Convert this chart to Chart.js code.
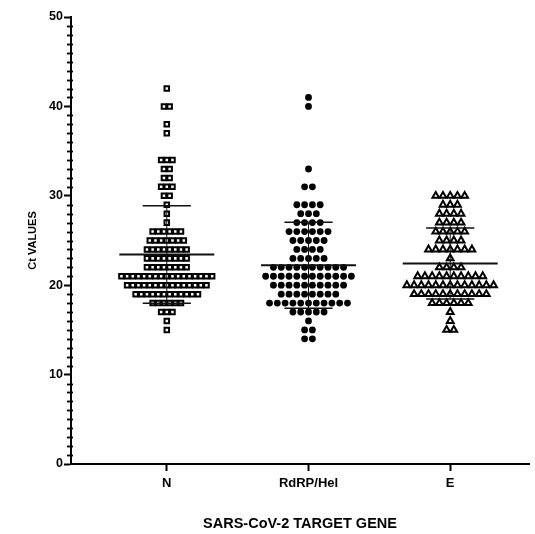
<!DOCTYPE html>
<html>
<head>
<meta charset="utf-8">
<script src="https://cdn.jsdelivr.net/npm/chart.js@4.4.1/dist/chart.umd.min.js"></script>
<style>
  body { margin: 0; background: #fff; }
  canvas { display: block; }
</style>
</head>
<body>
<canvas id="chart" width="535" height="534"></canvas>
<script>
// Categories on the x axis
var genes = ["N", "RdRP/Hel", "E"];

// Ct values, as value / how many points sit at it
var nValues = [42, 40, 38, 37, 34, 33, 32, 31, 30, 29, 28, 27, 26, 25, 24, 23, 22, 21, 20, 19, 18, 17, 16, 15];
var nCounts = [1, 2, 1, 1, 3, 2, 2, 3, 2, 1, 1, 1, 6, 7, 8, 8, 8, 17, 15, 12, 6, 3, 1, 1];

var rdrpValues = [41, 40, 33, 31, 29, 28, 27, 26, 25, 24, 23, 22, 21, 20, 19, 18, 17, 16, 15, 14];
var rdrpCounts = [1, 1, 1, 2, 4, 3, 4, 6, 5, 4, 5, 10, 12, 10, 8, 11, 5, 1, 2, 2];

var eValues = [30, 29, 28, 27, 26, 25, 24, 23, 22, 21, 20, 19, 18, 17, 16, 15];
var eCounts = [5, 3, 4, 4, 5, 4, 7, 1, 4, 10, 13, 11, 6, 1, 1, 2];

// y axis tick labels
var yTicks = [0, 10, 20, 30, 40, 50];

// expand value/count pairs into the raw list
function expand(values, counts) {
  var out = [];
  for (var i = 0; i < values.length; i++) {
    for (var k = 0; k < counts[i]; k++) out.push(values[i]);
  }
  return out;
}

// simple column scatter: points with the same value spread side by side
function swarm(values, counts, center, step) {
  var pts = [];
  for (var i = 0; i < values.length; i++) {
    var n = counts[i];
    for (var k = 0; k < n; k++) {
      pts.push({ x: center + (k - (n - 1) / 2) * step, y: values[i] });
    }
  }
  return pts;
}

function stats(list) {
  var sum = 0;
  list.forEach(function (v) { sum += v; });
  var mean = sum / list.length;
  var ss = 0;
  list.forEach(function (v) { ss += (v - mean) * (v - mean); });
  return { mean: mean, sd: Math.sqrt(ss / (list.length - 1)) };
}

var groups = [
  { values: nValues, counts: nCounts, step: 0.04, style: "rect", radius: 3.2, fill: "#fff", border: 2 },
  { values: rdrpValues, counts: rdrpCounts, step: 0.055, style: "circle", radius: 3.4, fill: "#000", border: 0 },
  { values: eValues, counts: eCounts, step: 0.051, style: "triangle", radius: 3.9, fill: "#fff", border: 2 }
];

var datasets = [];
groups.forEach(function (g, i) {
  var c = i + 1;
  datasets.push({
    type: "scatter",
    data: swarm(g.values, g.counts, c, g.step),
    pointStyle: g.style,
    pointRadius: g.radius,
    pointBackgroundColor: g.fill,
    pointBorderColor: "#000",
    pointBorderWidth: g.border,
    order: 2
  });

  var s = stats(expand(g.values, g.counts));
  var seg = function (pts, w) {
    datasets.push({
      type: "line",
      data: pts,
      borderColor: "#111",
      borderWidth: w,
      pointRadius: 0,
      fill: false,
      order: 1
    });
  };
  seg([{ x: c - 0.335, y: s.mean }, { x: c + 0.335, y: s.mean }], 2);
  seg([{ x: c - 0.17, y: s.mean + s.sd }, { x: c + 0.17, y: s.mean + s.sd }], 1.5);
  seg([{ x: c - 0.17, y: s.mean - s.sd }, { x: c + 0.17, y: s.mean - s.sd }], 1.5);
  seg([{ x: c, y: s.mean - s.sd }, { x: c, y: s.mean + s.sd }], 1);
});

// small unlabelled ticks every 1 unit on the y axis
var minorTicks = {
  id: "minorTicks",
  afterDraw: function (chart) {
    var y = chart.scales.y;
    var ctx = chart.ctx;
    var x0 = y.right;
    ctx.save();
    ctx.strokeStyle = "#000";
    ctx.lineWidth = 1.8;
    for (var v = y.min; v <= y.max; v++) {
      if (v % 10 === 0) continue;
      var py = Math.round(y.getPixelForValue(v)) + 0.5;
      ctx.beginPath();
      ctx.moveTo(x0 - 4, py);
      ctx.lineTo(x0 + 2, py);
      ctx.stroke();
    }
    ctx.restore();
  }
};

Chart.defaults.font.family = "'Liberation Sans', Arial, sans-serif";
Chart.defaults.color = "#000";

new Chart(document.getElementById("chart"), {
  type: "scatter",
  data: { datasets: datasets },
  plugins: [minorTicks],
  options: {
    responsive: false,
    animation: false,
    layout: { padding: { top: 17, right: 0, left: 0, bottom: 0 } },
    plugins: {
      legend: { display: false },
      tooltip: { enabled: false }
    },
    scales: {
      x: {
        type: "linear",
        min: 0.324,
        max: 3.556,
        afterFit: function (scale) { scale.height = 70; },
        afterBuildTicks: function (scale) {
          scale.ticks = genes.map(function (g, i) { return { value: i + 1 }; });
        },
        ticks: {
          callback: function (v) { return genes[v - 1]; },
          font: { size: 13, weight: "bold" },
          padding: 5,
          maxRotation: 0
        },
        grid: {
          drawOnChartArea: false,
          drawTicks: true,
          tickLength: 7,
          tickWidth: 2,
          tickColor: "#000"
        },
        border: { display: true, width: 2, color: "#000" },
        title: {
          display: true,
          text: "SARS-CoV-2 TARGET GENE",
          font: { size: 14.5, weight: "bold" },
          padding: { top: 0, bottom: 1 }
        }
      },
      y: {
        min: 0,
        max: 50,
        afterFit: function (scale) { scale.width = 71; },
        afterBuildTicks: function (scale) {
          scale.ticks = yTicks.map(function (v) { return { value: v }; });
        },
        ticks: {
          font: { size: 12.5, weight: "bold" },
          padding: 1
        },
        grid: {
          drawOnChartArea: false,
          drawTicks: true,
          tickLength: 7,
          tickWidth: 2,
          tickColor: "#000"
        },
        border: { display: true, width: 2, color: "#000" },
        title: {
          display: true,
          text: "Ct VALUES",
          font: { size: 11, weight: "bold" },
          padding: { top: 26, bottom: 0 }
        }
      }
    }
  }
});
</script>
</body>
</html>
